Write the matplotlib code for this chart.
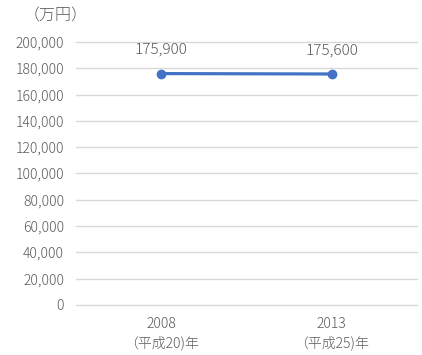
import matplotlib
matplotlib.use("Agg")
import matplotlib.pyplot as plt

plt.rcParams['font.family'] = ['Noto Sans CJK JP', 'DejaVu Sans']

categories = ["2008\n（平成20)年", "2013\n（平成25)年"]
values = [175900, 175600]
value_labels = ["175,900", "175,600"]
yticks = list(range(0, 200001, 20000))

fig = plt.figure(figsize=(4.22, 3.55), dpi=100)
ax = fig.add_axes([0.180, 0.141, 0.808, 0.741])

x = list(range(len(categories)))
ax.plot(x, values, color='#4472C4', linewidth=2.3, marker='o', markersize=6, zorder=3)
for xi, v, lab in zip(x, values, value_labels):
    ax.annotate(lab, (xi, v), xytext=(0, 12), textcoords='offset points',
                ha='center', va='bottom', fontsize=11, color='#595959', fontweight='light')

ax.set_xlim(-0.5, len(categories) - 0.5)
ax.set_ylim(0, 200000)
ax.set_yticks(yticks)
ax.set_yticklabels([f"{t:,}" for t in yticks])
ax.set_xticks(x)
ax.set_xticklabels(categories, linespacing=1.35)
ax.grid(axis='y', color='#d9d9d9', linewidth=1)
for gl in ax.get_ygridlines():
    gl.set_clip_on(False)
ax.set_axisbelow(True)
for s in ax.spines.values():
    s.set_visible(False)
ax.tick_params(axis='both', length=0, colors='#595959', labelsize=10)
ax.tick_params(axis='y', pad=8.5)
ax.tick_params(axis='x', pad=9)
for lab in ax.get_xticklabels() + ax.get_yticklabels():
    lab.set_fontweight('light')

fig.text(24/422, 1 - 16/355, "（万円）", fontsize=11.5, color='#595959', ha='left', va='center', fontweight='light')

fig.savefig("out.png", dpi=100)
